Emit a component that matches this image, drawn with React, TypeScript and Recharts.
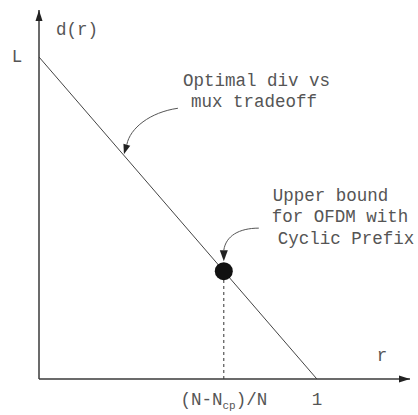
import { ComposedChart, Line, Scatter, XAxis, YAxis, ReferenceLine, ReferenceDot } from "recharts";

// tradeoff curve d(r): from L at r=0 down to 0 at r=1
const rValues = [0, 1];
const dValues = [1, 0];
// OFDM cyclic prefix upper bound point
const boundR = [0.665];
const boundD = [0.335];
const xTicks = [0.665, 1];
const xTickLabels = [
  [{ t: "(N-N" }, { t: "cp", sub: true }, { t: ")/N" }],
  [{ t: "1" }],
];
const yTicks = [1];
const yTickLabels = ["L"];
const xMax = 1.335;
const yMax = 1.146;

const lineData = rValues.map((r, i) => ({ r, d: dValues[i] }));
const boundData = boundR.map((r, i) => ({ r, d: boundD[i] }));

const FONT = "'Liberation Mono', 'DejaVu Sans Mono', monospace";
const TXT = "#555";
const INK = "#3a3a3a";

const XTick = (props: any) => {
  const { x, y, index } = props;
  const parts = xTickLabels[index] || [];
  return (
    <text x={x} y={y + 18} textAnchor="middle" fontFamily={FONT} fontSize={17.5} fill={TXT}>
      {parts.map((p: any, i: number) =>
        p.sub ? (
          <tspan key={i} fontSize={11} dy={4}>{p.t}</tspan>
        ) : (
          <tspan key={i} dy={i > 0 && parts[i - 1].sub ? -4 : 0}>{p.t}</tspan>
        )
      )}
    </text>
  );
};

const YTick = (props: any) => {
  const { y, index } = props;
  return (
    <text x={17} y={y + 5} textAnchor="middle" fontFamily={FONT} fontSize={17.5} fill={TXT}>
      {yTickLabels[index]}
    </text>
  );
};

const XArrow = ({ cx, cy }: any) => (
  <g>
    <polygon points={`${cx},${cy} ${cx - 11},${cy - 3.5} ${cx - 11},${cy + 3.5}`} fill="#222" />
    <text x={cx - 28} y={cy - 18} textAnchor="middle" fontFamily={FONT} fontSize={17.5} fill={TXT}>r</text>
  </g>
);

const YArrow = ({ cx, cy }: any) => (
  <g>
    <polygon points={`${cx},${cy} ${cx - 3.5},${cy + 11} ${cx + 3.5},${cy + 11}`} fill="#222" />
    <text x={cx + 17} y={cy + 25} fontFamily={FONT} fontSize={17.5} fill={TXT}>d(r)</text>
  </g>
);

const TradeoffNote = ({ cx, cy }: any) => (
  <g>
    <path d={`M${cx + 55},${cy - 46} C${cx + 27},${cy - 42} ${cx + 7},${cy - 26} ${cx + 3.9},${cy - 9.6}`} fill="none" stroke="#555" strokeWidth={1} />
    <polygon points={`${cx + 1},${cy} ${cx + 7.3},${cy - 8.6} ${cx + 0.5},${cy - 10.6}`} fill="#222" />
    <text x={cx + 60} y={cy - 68} fontFamily={FONT} fontSize={17.5} fill={TXT}>Optimal div vs</text>
    <text x={cx + 68} y={cy - 47} fontFamily={FONT} fontSize={17.5} fill={TXT}>mux tradeoff</text>
  </g>
);

const BoundNote = ({ cx, cy }: any) => (
  <g>
    <path d={`M${cx + 35},${cy - 43} C${cx + 15},${cy - 43} ${cx + 2},${cy - 35} ${cx},${cy - 21}`} fill="none" stroke="#555" strokeWidth={1} />
    <polygon points={`${cx},${cy - 10} ${cx - 4},${cy - 21} ${cx + 4},${cy - 21}`} fill="#222" />
    <text x={cx + 49} y={cy - 70} fontFamily={FONT} fontSize={17.5} fill={TXT}>Upper bound</text>
    <text x={cx + 48} y={cy - 49} fontFamily={FONT} fontSize={17.5} fill={TXT}>for OFDM with</text>
    <text x={cx + 54} y={cy - 27} fontFamily={FONT} fontSize={17.5} fill={TXT}>Cyclic Prefix</text>
  </g>
);

const BigDot = ({ cx, cy }: any) => <circle cx={cx} cy={cy} r={9} fill="#111" />;

export default function App() {
  return (
    <div style={{ position: "absolute", left: 0, top: 0, background: "#fff" }}>
      <ComposedChart width={418} height={415} data={lineData} margin={{ top: 10, right: 8, bottom: 0, left: 0 }}>
        <XAxis
          dataKey="r"
          type="number"
          domain={[0, xMax]}
          ticks={xTicks}
          tick={<XTick />}
          tickLine={false}
          axisLine={{ stroke: INK, strokeWidth: 1.5 }}
          height={36}
          allowDataOverflow
        />
        <YAxis
          type="number"
          domain={[0, yMax]}
          ticks={yTicks}
          tick={<YTick />}
          tickLine={false}
          axisLine={{ stroke: INK, strokeWidth: 1.5 }}
          width={39}
          allowDataOverflow
        />
        <ReferenceLine
          segment={[{ x: boundR[0], y: 0 }, { x: boundR[0], y: boundD[0] }]}
          stroke="#333"
          strokeDasharray="3 3"
        />
        <Line dataKey="d" stroke="#444" strokeWidth={1} dot={false} isAnimationActive={false} />
        <Scatter data={boundData} dataKey="d" shape={<BigDot />} isAnimationActive={false} />
        <ReferenceDot x={xMax} y={0} shape={<XArrow />} />
        <ReferenceDot x={0} y={yMax} shape={<YArrow />} />
        <ReferenceDot x={0.302} y={0.698} shape={<TradeoffNote />} />
        <ReferenceDot x={boundR[0]} y={boundD[0]} shape={<BoundNote />} />
      </ComposedChart>
    </div>
  );
}
